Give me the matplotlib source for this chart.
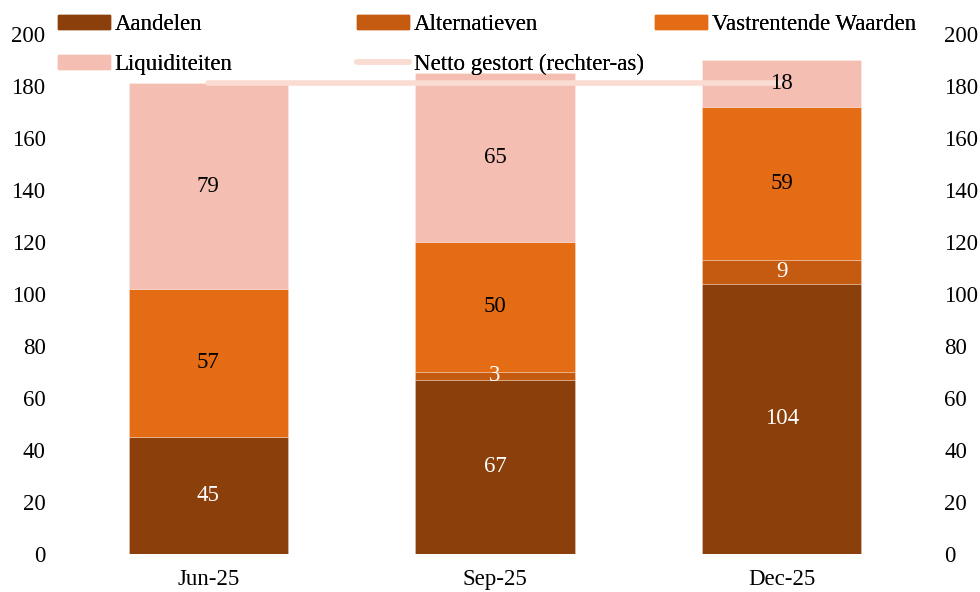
import matplotlib
matplotlib.use('Agg')
import matplotlib.pyplot as plt
import numpy as np
from matplotlib.patches import Patch
from matplotlib.lines import Line2D

plt.rcParams['font.family'] = ['Liberation Serif', 'DejaVu Serif']

categories = ['Jun-25', 'Sep-25', 'Dec-25']
aandelen = [45, 67, 104]
alternatieven = [0, 3, 9]
vastrentend = [57, 50, 59]
liquiditeiten = [79, 65, 18]
netto_gestort = [181, 181, 181]

series = [
    ('Aandelen', aandelen, '#8B3F0A', 'white'),
    ('Alternatieven', alternatieven, '#C55A11', 'white'),
    ('Vastrentende Waarden', vastrentend, '#E36C15', 'black'),
    ('Liquiditeiten', liquiditeiten, '#F4BFB2', 'black'),
]
line_color = '#FADCD3'
fs = 16.5

fig = plt.figure(figsize=(9.8, 5.92), dpi=100)
ax = fig.add_axes([65 / 980, 38 / 592, 860 / 980, 520 / 592])
x = np.arange(len(categories))

ax2 = ax.twinx()
ax2.plot(x, netto_gestort, color=line_color, linewidth=4,
         solid_capstyle='round', zorder=2)

bottom = np.zeros(len(categories))
for name, vals, color, tcolor in series:
    vals = np.array(vals, dtype=float)
    bars = ax.bar(x, vals, 0.555, bottom=bottom, color=color,
                  edgecolor=(1, 1, 1, 0.35), linewidth=0.5)
    for b, v, btm in zip(bars, vals, bottom):
        if v > 0:
            # labels on the top axes so they sit above the line
            ax2.text(b.get_x() + b.get_width() / 2, btm + v / 2, '%d' % v,
                     ha='center', va='center', color=tcolor, fontsize=fs,
                     zorder=3)
    bottom += vals

ax.set_xlim(-0.5, 2.5)
ax.set_ylim(0, 200)
ax.set_yticks(range(0, 201, 20))
ax.set_xticks(x)
ax.set_xticklabels(categories)
ax.tick_params(length=0, labelsize=fs)
ax.tick_params(axis='y', pad=14)
ax.tick_params(axis='x', pad=11)
for s in ax.spines.values():
    s.set_visible(False)

ax2.set_ylim(0, 200)
ax2.set_yticks(range(0, 201, 20))
ax2.tick_params(length=0, labelsize=fs, pad=14)
for s in ax2.spines.values():
    s.set_visible(False)

# legend, laid out in three columns like the original
handles = [Patch(color=c) for _, _, c, _ in series]
handles.append(Line2D([], [], color=line_color, linewidth=4,
                      solid_capstyle='round'))
labels = [s[0] for s in series] + ['Netto gestort (rechter-as)']
cols = [[0, 3], [1, 4], [2]]
xs = [58, 357, 655]
for col, xp in zip(cols, xs):
    leg = fig.legend([handles[i] for i in col], [labels[i] for i in col],
                     loc='upper left', bbox_to_anchor=(xp / 980, 1 - 14 / 592),
                     frameon=False, fontsize=fs, borderpad=0,
                     borderaxespad=0, handlelength=2.25, handletextpad=0.22,
                     handleheight=0.55, labelspacing=0.82)
    fig.add_artist(leg)

fig.savefig('out.png', dpi=100)
